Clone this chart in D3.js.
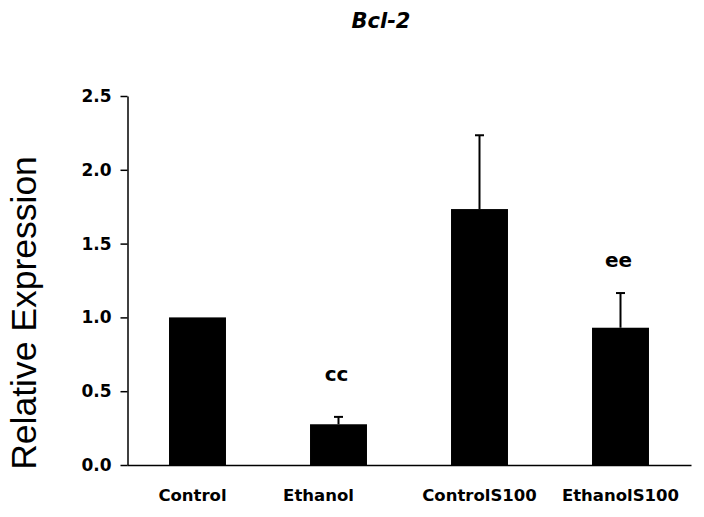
<!DOCTYPE html>
<html>
<head>
<meta charset="utf-8">
<script src="https://cdn.jsdelivr.net/npm/d3@7"></script>
<style>
  body { margin: 0; background: #fff; }
  svg { display: block; }
</style>
</head>
<body>
<div id="chart"></div>
<script>
// chart data
var groups = ["Control", "Ethanol", "ControlS100", "EthanolS100"];
var means = [1.0, 0.276, 1.734, 0.93];
var errors = [0, 0.05, 0.50, 0.235];
var marks = ["", "cc", "", "ee"];
var markLevel = [null, 0.57, null, 1.34];
var yTicks = [0.0, 0.5, 1.0, 1.5, 2.0, 2.5];

var svgWidth = 704;
var svgHeight = 517;

var svg = d3.select("#chart")
  .append("svg")
  .attr("width", svgWidth)
  .attr("height", svgHeight);

//Scales
var x = d3.scaleBand()
  .domain(groups)
  .range([127, 691])
  .paddingInner(0.596)
  .paddingOuter(0.298);

var y = d3.scaleLinear()
  .domain([0, 2.5])
  .range([465, 96]);

//Title
svg.append("text")
  .attr("x", 381)
  .attr("y", 28)
  .attr("text-anchor", "middle")
  .style("font-family", "DejaVu Sans")
  .style("font-weight", "bold")
  .style("font-style", "italic")
  .style("font-size", "21px")
  .text("Bcl-2");

//Bars
svg.selectAll("rect.bar")
  .data(groups)
  .enter().append("rect")
  .attr("class", "bar")
  .attr("x", function(d) { return x(d); })
  .attr("width", x.bandwidth())
  .attr("y", function(d, i) { return y(means[i]); })
  .attr("height", function(d, i) { return y(0) - y(means[i]); })
  .attr("fill", "#000");

//Error bars (upper only)
var err = svg.append("g")
  .attr("stroke", "#000")
  .attr("stroke-width", 2);

groups.forEach(function(g, i) {
  if (!errors[i]) return;
  var cx = x(g) + x.bandwidth() / 2;
  err.append("line")
    .attr("x1", cx).attr("x2", cx)
    .attr("y1", y(means[i])).attr("y2", y(means[i] + errors[i]));
  err.append("line")
    .attr("x1", cx - 4.5).attr("x2", cx + 4.5)
    .attr("y1", y(means[i] + errors[i])).attr("y2", y(means[i] + errors[i]));
});

//Significance letters
groups.forEach(function(g, i) {
  if (!marks[i]) return;
  svg.append("text")
    .attr("x", x(g) + x.bandwidth() / 2 - 2)
    .attr("y", y(markLevel[i]))
    .attr("text-anchor", "middle")
    .style("font-family", "DejaVu Sans")
    .style("font-weight", "bold")
    .style("font-size", "20px")
    .text(marks[i]);
});

//Y axis
var leftAxis = d3.axisLeft(y)
  .tickValues(yTicks)
  .tickFormat(d3.format(".1f"))
  .tickSize(7)
  .tickPadding(9)
  .tickSizeOuter(0);

var yAxis = svg.append("g")
  .attr("transform", "translate(127.5,0)")
  .call(leftAxis);

yAxis.select(".domain").attr("stroke-width", 1.5);
yAxis.selectAll(".tick line").attr("stroke-width", 1.5);
yAxis.selectAll("text")
  .style("font-family", "DejaVu Sans")
  .style("font-weight", "bold")
  .style("font-size", "17px")
  .attr("fill", "#000");

//X axis
var bottomAxis = d3.axisBottom(x)
  .tickSize(0)
  .tickPadding(24);

var xAxis = svg.append("g")
  .attr("transform", "translate(0,465)")
  .call(bottomAxis);

xAxis.select(".domain").attr("stroke-width", 1.5);
xAxis.selectAll("text")
  .style("font-family", "DejaVu Sans")
  .style("font-weight", "bold")
  .style("font-size", "16.5px")
  .attr("fill", "#000");

//The first two labels sit a little left of their bars in the original.
xAxis.selectAll(".tick text")
  .attr("dx", function(d) {
    if (d === "Control") return -5;
    if (d === "Ethanol") return -20;
    return 0;
  });

//Y axis label
svg.append("text")
  .attr("transform", "translate(36,313) rotate(-90)")
  .attr("text-anchor", "middle")
  .style("font-family", "Liberation Sans")
  .style("font-size", "35.5px")
  .text("Relative Expression");
</script>
</body>
</html>
